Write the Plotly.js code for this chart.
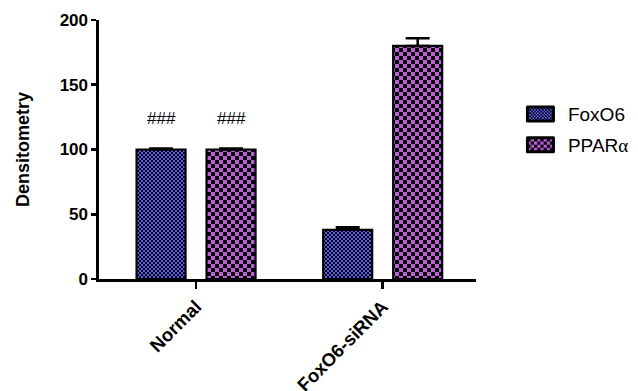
<!DOCTYPE html>
<html>
<head>
<meta charset="utf-8">
<script src="https://cdn.plot.ly/plotly-3.0.1.min.js"></script>
<style>
  html, body { margin: 0; padding: 0; background: #fff; }
  #chart { width: 638px; height: 391px; }
</style>
</head>
<body>
<div id="chart"></div>
<script>
// Groups on the x axis
const groups = ['Normal', 'FoxO6-siRNA'];

// Mean densitometry and upper error per series
const foxo6Values = [100, 38];
const foxo6Errors = [0.8, 2];
const pparValues = [100, 180];
const pparErrors = [0.8, 6];

// Significance marks drawn above the Normal bars
const markText = ['###', '###'];
const markY = 124;

const seriesNames = ['FoxO6', 'PPAR<span style="font-family:Liberation Serif">α</span>'];
const blue = '#5a5af5';
const purple = '#bf5cdc';

const font = 'Liberation Sans, Arial, sans-serif';

function barTrace(name, values, errors, color, tile, group) {
  return {
    type: 'bar',
    name: name,
    x: groups,
    y: values,
    legendgroup: group,
    error_y: {
      type: 'data',
      symmetric: false,
      array: errors,
      arrayminus: errors.map(() => 0),
      color: '#000',
      thickness: 2.5,
      width: 12
    },
    marker: {
      color: color,
      line: { color: '#000', width: 2.2 },
      pattern: { shape: '.', size: tile, solidity: 0.5, fgcolor: '#000', bgcolor: color, fillmode: 'replace' }
    }
  };
}

const data = [
  barTrace(seriesNames[0], foxo6Values, foxo6Errors, blue, 4, 'a'),
  barTrace(seriesNames[1], pparValues, pparErrors, purple, 8, 'b')
];

// offset of each bar from its group centre, in category units
const barOffset = (1 - 0.25) / 4;

const layout = {
  width: 638,
  height: 391,
  margin: { l: 99, r: 162, t: 20, b: 112, autoexpand: false },
  paper_bgcolor: '#fff',
  plot_bgcolor: '#fff',
  barmode: 'group',
  bargap: 0.25,
  bargroupgap: 0.3,
  showlegend: true,
  font: { family: font, color: '#000' },
  xaxis: {
    type: 'category',
    range: [-0.52, 1.5],
    showline: true,
    linecolor: '#000',
    linewidth: 2.6,
    ticks: 'outside',
    ticklen: 7,
    tickwidth: 2.6,
    tickcolor: '#000',
    tickangle: -45,
    tickfont: { family: font, size: 18.5, color: '#000', weight: 'bold' },
    showgrid: false,
    zeroline: false
  },
  yaxis: {
    range: [0, 200],
    tickvals: [0, 50, 100, 150, 200],
    showline: true,
    linecolor: '#000',
    linewidth: 2.6,
    ticks: 'outside',
    ticklen: 5,
    tickwidth: 2.6,
    tickcolor: '#000',
    tickfont: { family: font, size: 17, color: '#000', weight: 'bold' },
    showgrid: false,
    zeroline: false,
    title: { text: 'Densitometry', font: { family: font, size: 18, color: '#000', weight: 'bold' }, standoff: 26 }
  },
  legend: {
    x: 1.098,
    y: 0.71,
    xanchor: 'left',
    yanchor: 'top',
    font: { family: font, size: 19, color: '#000' },
    tracegroupgap: 3,
    itemwidth: 45,
    bgcolor: 'rgba(0,0,0,0)'
  },
  annotations: markText.map((t, i) => ({
    x: i === 0 ? -barOffset : barOffset,
    y: markY,
    xref: 'x',
    yref: 'y',
    text: t,
    showarrow: false,
    font: { family: font, size: 17, color: '#000' }
  }))
};

// Turn each dot tile into a two-square checkerboard tile,
// and draw the legend swatches as wide rounded boxes
function restyle(gd) {
  const ns = 'http://www.w3.org/2000/svg';
  gd.querySelectorAll('pattern').forEach(p => {
    const w = parseFloat(p.getAttribute('width'));
    const h = parseFloat(p.getAttribute('height'));
    if (!w || !h) return;
    const kids = Array.from(p.children);
    kids.forEach((k, i) => { if (i > 0) p.removeChild(k); });
    [[0, 0], [w / 2, h / 2]].forEach(([x, y]) => {
      const r = document.createElementNS(ns, 'rect');
      r.setAttribute('x', x);
      r.setAttribute('y', y);
      r.setAttribute('width', w / 2);
      r.setAttribute('height', h / 2);
      r.setAttribute('fill', '#000');
      p.appendChild(r);
    });
  });
  gd.querySelectorAll('.legend .legendpoints path').forEach(path => {
    path.setAttribute('d', 'M13,7H-13V-7H13Z');
    path.style.strokeWidth = '3px';
    path.style.strokeLinejoin = 'round';
  });
}

const gd = document.getElementById('chart');
Plotly.newPlot(gd, data, layout, { displayModeBar: false, staticPlot: true }).then(() => {
  restyle(gd);
  gd.on('plotly_afterplot', () => restyle(gd));
});
</script>
</body>
</html>
